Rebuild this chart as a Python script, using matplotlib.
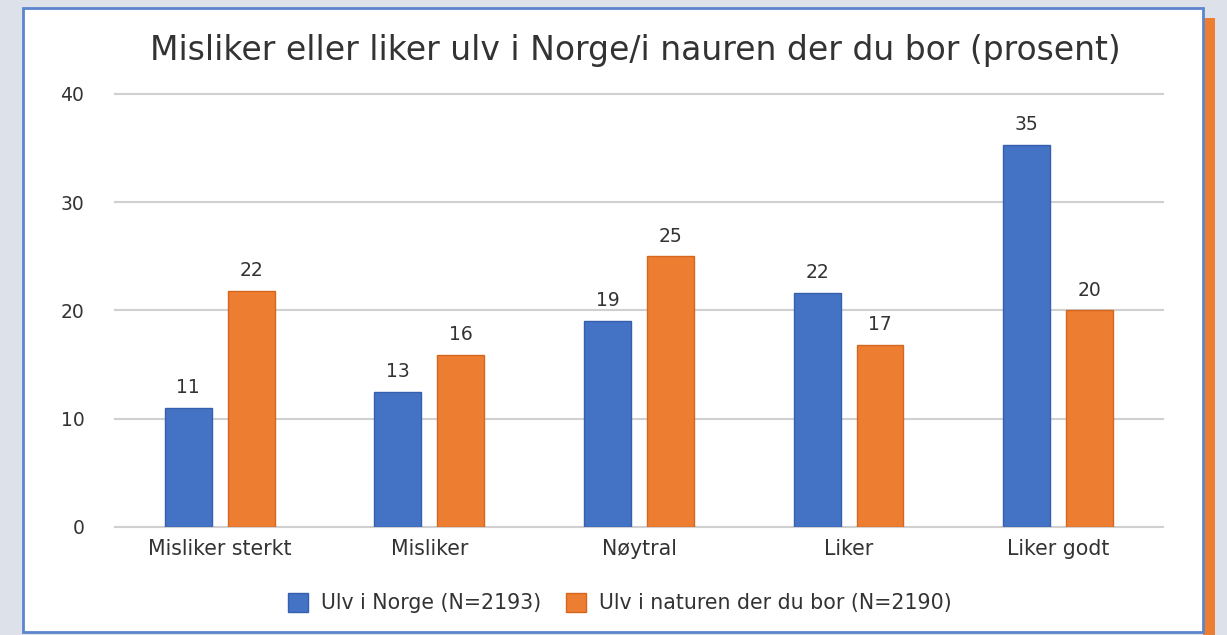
import matplotlib.pyplot as plt
import numpy as np
from matplotlib.patches import Rectangle

categories = ["Misliker sterkt", "Misliker", "Nøytral", "Liker", "Liker godt"]
norge = [11.0, 12.5, 19.0, 21.6, 35.3]
naturen = [21.8, 15.9, 25.0, 16.8, 20.0]
norge_labels = ["11", "13", "19", "22", "35"]
naturen_labels = ["22", "16", "25", "17", "20"]
series_names = ["Ulv i Norge (N=2193)", "Ulv i naturen der du bor (N=2190)"]

blue = "#4472c4"
orange = "#ed7d31"
plt.rcParams['font.family'] = ['DejaVu Sans']

fig = plt.figure(figsize=(12.27, 6.35), dpi=100, facecolor="#dde2ea")

# orange strip and white frame behind the axes
fig.patches.append(Rectangle((0.9804, 0.0), 0.0098, 0.972, transform=fig.transFigure,
                             facecolor=orange, edgecolor="none", zorder=-2))
fig.patches.append(Rectangle((0.0187, 0.0047), 0.9617, 0.9823, transform=fig.transFigure,
                             facecolor="white", edgecolor="#5b85cc", linewidth=2, zorder=-1))

ax = fig.add_axes([0.0937, 0.1701, 0.8541, 0.6819])
ax.set_facecolor("none")
x = np.arange(len(categories))
w = 0.224
off = 0.15
b1 = ax.bar(x - off, norge, w, color=blue, edgecolor="#3560ad", linewidth=1,
            label=series_names[0], zorder=3)
b2 = ax.bar(x + off, naturen, w, color=orange, edgecolor="#d4671f", linewidth=1,
            label=series_names[1], zorder=3)

for rect, lab in zip(b1, norge_labels):
    ax.text(rect.get_x() + rect.get_width() / 2, rect.get_height() + 1.0, lab,
            ha="center", va="bottom", fontsize=13.5, color="#333333")
for rect, lab in zip(b2, naturen_labels):
    ax.text(rect.get_x() + rect.get_width() / 2, rect.get_height() + 1.0, lab,
            ha="center", va="bottom", fontsize=13.5, color="#333333")

ax.set_xlim(-0.5, len(categories) - 0.5)
ax.set_ylim(0, 40)
ax.set_yticks([0, 10, 20, 30, 40])
ax.set_xticks(x)
ax.set_xticklabels(categories, fontsize=14.8, color="#333333")
ax.tick_params(axis="y", labelsize=13.5, colors="#333333", length=0, pad=22)
ax.tick_params(axis="x", length=0, pad=9)
ax.grid(axis="y", color="#d0d0d0", linewidth=1.5, zorder=0)
for line in ax.get_ygridlines():
    line.set_clip_on(False)
for s in ax.spines.values():
    s.set_visible(False)

fig.text(0.5175, 0.921, "Misliker eller liker ulv i Norge/i nauren der du bor (prosent)",
         ha="center", va="center", fontsize=23.8, color="#333333")

fig.legend(loc="center", bbox_to_anchor=(0.505, 0.05), ncol=2, frameon=False,
           fontsize=14.8, handlelength=1.0, handleheight=1.0, columnspacing=1.2,
           handletextpad=0.6, labelcolor="#333333")

fig.savefig("out.png", dpi=100, facecolor=fig.get_facecolor())
